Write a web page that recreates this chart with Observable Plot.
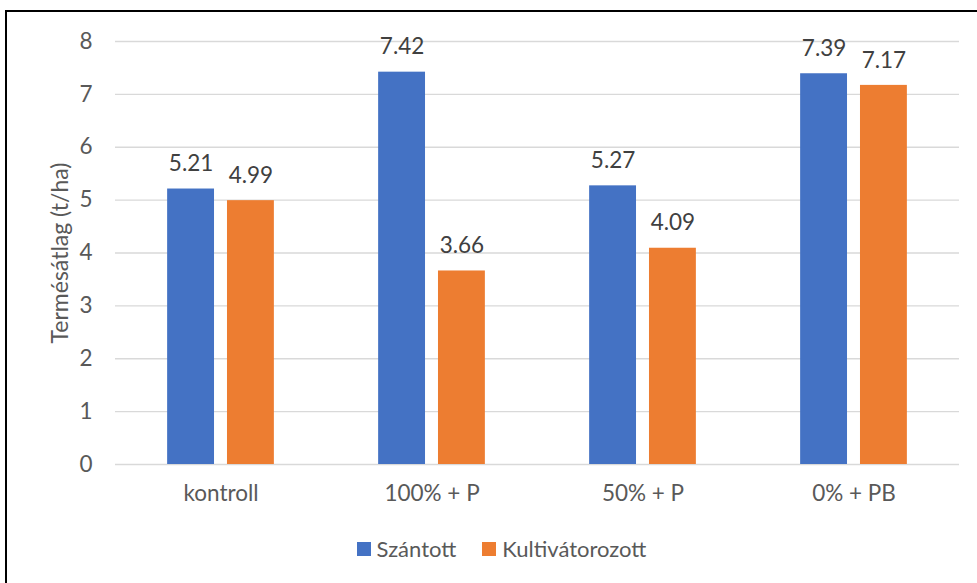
<!DOCTYPE html>
<html>
<head>
<meta charset="utf-8">
<script src="https://cdn.jsdelivr.net/npm/d3@7"></script>
<script src="https://cdn.jsdelivr.net/npm/@observablehq/plot@0.6"></script>
<style>
  html, body { margin: 0; padding: 0; background: #fff; overflow: hidden; }
  #frame { position: absolute; left: 5px; top: 10px; width: 1000px; height: 600px; border: 2px solid #000; box-sizing: border-box; pointer-events: none; }
  #chart { position: absolute; left: 0; top: 0; }
  #ytitle { position: absolute; left: 59px; top: 253px; transform: translate(-50%, -50%) rotate(-90deg); white-space: nowrap; font-family: Lato, sans-serif; font-size: 23px; color: #595959; }
  #legend { position: absolute; left: 30px; top: 535px; width: 943px; display: flex; justify-content: center; align-items: center; font-family: Lato, sans-serif; font-size: 22px; color: #595959; }
  .item { display: flex; align-items: center; margin: 0 13px; }
  .sw { width: 14px; height: 14px; margin-right: 6px; }
</style>
</head>
<body>
<div id="chart"></div>
<div id="ytitle"></div>
<div id="legend"></div>
<div id="frame"></div>
<script>
const categories = ["kontroll", "100% + P", "50% + P", "0% + PB"];
const series = ["Szántott", "Kultivátorozott"];
const szantott = [5.21, 7.42, 5.27, 7.39];
const kultivatorozott = [4.99, 3.66, 4.09, 7.17];
const colors = ["#4472C4", "#ED7D31"];
const yTicks = [0, 1, 2, 3, 4, 5, 6, 7, 8];
const yTitle = "Termésátlag (t/ha)";

const data = [];
categories.forEach((c, i) => {
  data.push({cat: c, series: series[0], value: szantott[i]});
  data.push({cat: c, series: series[1], value: kultivatorozott[i]});
});

const chart = Plot.plot({
  width: 977,
  height: 520,
  marginLeft: 114,
  marginRight: 17,
  marginTop: 41,
  marginBottom: 56,
  style: {fontFamily: "Lato, sans-serif", fontSize: "22.5px", color: "#595959", background: "transparent"},
  fx: {domain: categories, paddingInner: 0, paddingOuter: 0, label: null},
  x: {domain: series, paddingInner: 0.2167, paddingOuter: 0.871, axis: null, round: false},
  y: {domain: [0, 8], label: null},
  color: {domain: series, range: colors},
  marks: [
    Plot.gridY(yTicks, {stroke: "#d9d9d9", strokeOpacity: 1, strokeWidth: 1.3}),
    Plot.axisY(yTicks, {tickSize: 0, tickPadding: 23, tickFormat: d => String(d), label: null, fill: "#595959", fontSize: 22.5}),
    Plot.axisFx({anchor: "bottom", tickSize: 0, tickPadding: 21, label: null, fill: "#595959", fontSize: 22.5}),
    Plot.barY(data, {fx: "cat", x: "series", y: "value", fill: "series"}),
    Plot.text(data, {fx: "cat", x: "series", y: "value", text: d => d.value.toFixed(2), dy: -25, fill: "#404040", fontSize: 22.5})
  ]
});
document.getElementById("chart").appendChild(chart);
document.getElementById("ytitle").textContent = yTitle;

const legend = document.getElementById("legend");
series.forEach((s, i) => {
  const item = document.createElement("div");
  item.className = "item";
  const sw = document.createElement("div");
  sw.className = "sw";
  sw.style.background = colors[i];
  const t = document.createElement("span");
  t.textContent = s;
  item.appendChild(sw);
  item.appendChild(t);
  legend.appendChild(item);
});
</script>
</body>
</html>
